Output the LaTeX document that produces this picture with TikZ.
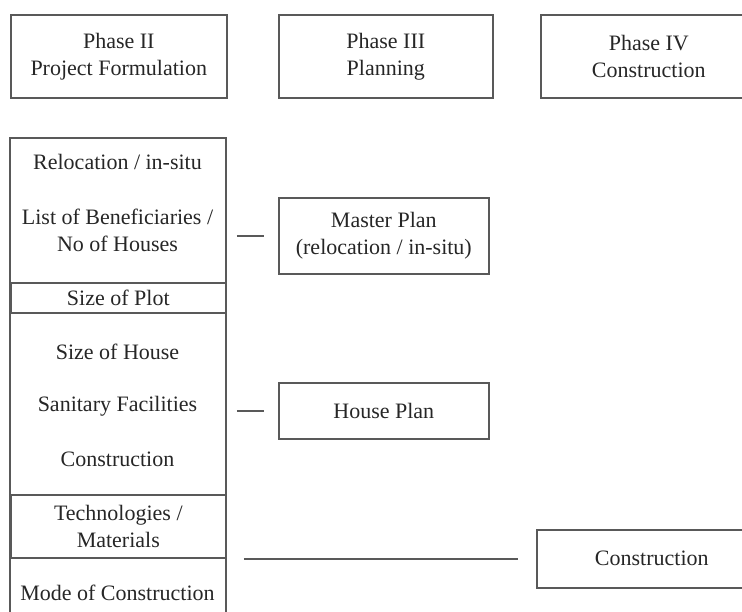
\documentclass[tikz,border=0pt]{standalone}
\usepackage{fontspec}
\setmainfont{Liberation Serif}
\usepackage{tikz}
\usetikzlibrary{positioning}

\begin{document}
\begin{tikzpicture}[
    x=0.5pt, y=-0.5pt,
    every node/.style={font=\fontsize{11}{13.5}\selectfont, text=black!85},
    phase/.style={
        rectangle,
        draw=black!65,
        thick,
        align=center,
        anchor=north west,
        inner sep=0pt,
        minimum width=108pt,
        minimum height=41.5pt
    },
    band/.style={
        rectangle,
        draw=black!65,
        thick,
        align=center,
        anchor=north west,
        inner sep=0pt,
        minimum width=107.5pt
    },
    plan/.style={
        rectangle,
        draw=black!65,
        thick,
        align=center,
        anchor=north west,
        inner sep=0pt,
        minimum width=105pt
    },
    item/.style={align=center, inner sep=0pt},
    link/.style={thick, draw=black!65}
]
\useasboundingbox (0,0) rectangle (742,611);
\clip (0,0) rectangle (742,611);

% phase headings
\node (ph2) [phase] at (10,14) {Phase II\\Project Formulation};
\node (ph3) [phase, minimum width=107pt] at (278,14) {Phase III\\Planning};
\node (ph4) [phase] at (540,14) {Phase IV\\Construction};

% project formulation column
\node (frame) [anchor=north west, inner sep=0pt, minimum width=107.5pt, minimum height=250pt] at (10,138) {};
\draw [link] (frame.south west) |- (frame.north east) -- (frame.south east);

\node (reloc) [item] at (117.5,162) {Relocation / in-situ};
\node (benef) [item] at (117.5,230) {List of Beneficiaries /\\No of Houses};
\node (plot) [band, minimum height=15pt] at (10,282) {Size of Plot};
\node (house) [item] at (117.5,352) {Size of House};
\node (sanit) [item] at (117.5,406) {Sanitary Facilities};
\node (constr) [item] at (117.5,459) {Construction};
\node (techn) [band, minimum height=31.5pt] at (10,494) {Technologies /\\Materials};
\node (mode) [item] at (117.5,593) {Mode of Construction};

% planning and construction boxes
\node (mp) [plan, minimum height=38pt] at (278,197) {Master Plan\\(relocation / in-situ)};
\node (hp) [plan, minimum height=28pt] at (278,382) {House Plan};
\node (con) [plan, minimum width=115pt, minimum height=29pt] at (536,529) {Construction};

\draw [link] ([xshift=5.5pt]frame.east |- mp.west) -- ([xshift=-7pt]mp.west);
\draw [link] ([xshift=5.5pt]frame.east |- hp.west) -- ([xshift=-7pt]hp.west);
\draw [link] ([xshift=9pt]frame.east |- con.west) -- ([xshift=-9pt]con.west);

\end{tikzpicture}
\end{document}
